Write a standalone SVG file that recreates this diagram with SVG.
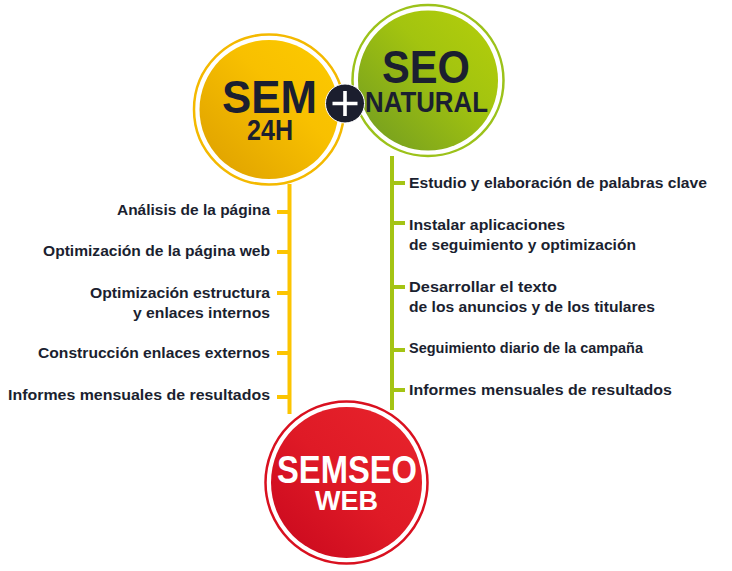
<svg xmlns="http://www.w3.org/2000/svg" width="732" height="571" viewBox="0 0 732 571">
<defs>
<linearGradient id="gY" x1="0" y1="1" x2="1" y2="0"><stop offset="0" stop-color="#dc9e00"/><stop offset="0.6" stop-color="#f8c000"/><stop offset="1" stop-color="#fdcb00"/></linearGradient>
<linearGradient id="gG" x1="0" y1="1" x2="1" y2="0"><stop offset="0" stop-color="#6f9a22"/><stop offset="0.6" stop-color="#a3c40f"/><stop offset="1" stop-color="#b5cf0a"/></linearGradient>
<linearGradient id="gR" x1="0" y1="1" x2="1" y2="0"><stop offset="0" stop-color="#c8071d"/><stop offset="0.5" stop-color="#df1a26"/><stop offset="1" stop-color="#e8242c"/></linearGradient>
<style>
.t{font-family:"Liberation Sans",Arial,sans-serif;font-size:15px;font-weight:bold;fill:#1b1f30}
.r{text-anchor:end}
.h{font-family:"Liberation Sans",Arial,sans-serif;font-weight:bold;fill:#1b1f30}
.w{fill:#ffffff}
.ly{stroke:#fcc400;stroke-width:4;fill:none}
.lg{stroke:#a4c414;stroke-width:4;fill:none}
</style>
</defs>
<g id="connectors">
<path class="ly" d="M289.5 184V414M277 212H290M277 252H290M277 293H290M277 353H290M277 397H290"/>
<path class="lg" d="M392 156V410M392 183H405M392 223H405M392 287H405M392 350H405M392 390H405"/>
</g>
<g id="sem">
<circle cx="269" cy="109.5" r="75" fill="#fff" stroke="#f4b900" stroke-width="2.5"/>
<circle cx="269" cy="109.5" r="69.5" fill="url(#gY)"/>
<text class="h" x="222" y="113" font-size="47" textLength="95" lengthAdjust="spacingAndGlyphs">SEM</text>
<text class="h" x="247" y="140" font-size="30" textLength="46" lengthAdjust="spacingAndGlyphs">24H</text>
</g>
<g id="seo">
<circle cx="428" cy="80.5" r="75.5" fill="#fff" stroke="#9cc21a" stroke-width="2.5"/>
<circle cx="428" cy="80.5" r="70" fill="url(#gG)"/>
<text class="h" x="382" y="83" font-size="46" textLength="88" lengthAdjust="spacingAndGlyphs">SEO</text>
<text class="h" x="365" y="112" font-size="30" textLength="123" lengthAdjust="spacingAndGlyphs">NATURAL</text>
</g>
<g id="plus">
<circle cx="345" cy="103.5" r="19.5" fill="#1b1e2e" stroke="#fff" stroke-width="1"/>
<path d="M332.5 103.5H357.5M345 91V116" stroke="#fff" stroke-width="3.6"/>
</g>
<g id="semseo">
<circle cx="346.5" cy="482.5" r="81" fill="#fff" stroke="#d9101f" stroke-width="2.5"/>
<circle cx="346.5" cy="482.5" r="75.5" fill="url(#gR)"/>
<text class="h w" x="277" y="483" font-size="39" textLength="140" lengthAdjust="spacingAndGlyphs">SEMSEO</text>
<text class="h w" x="315" y="510" font-size="28" textLength="63" lengthAdjust="spacingAndGlyphs">WEB</text>
</g>
<g id="sem-items">
<text class="t r" x="270" y="215" textLength="153" lengthAdjust="spacingAndGlyphs">Análisis de la página</text>
<text class="t r" x="270" y="256" textLength="227" lengthAdjust="spacingAndGlyphs">Optimización de la página web</text>
<text class="t r" x="270" y="298" textLength="180" lengthAdjust="spacingAndGlyphs">Optimización estructura</text>
<text class="t r" x="270" y="318" textLength="137" lengthAdjust="spacingAndGlyphs">y enlaces internos</text>
<text class="t r" x="270" y="358" textLength="232" lengthAdjust="spacingAndGlyphs">Construcción enlaces externos</text>
<text class="t r" x="270" y="400" textLength="262" lengthAdjust="spacingAndGlyphs">Informes mensuales de resultados</text>
</g>
<g id="seo-items">
<text class="t" x="409" y="188" textLength="298" lengthAdjust="spacingAndGlyphs">Estudio y elaboración de palabras clave</text>
<text class="t" x="409" y="230" textLength="156" lengthAdjust="spacingAndGlyphs">Instalar aplicaciones</text>
<text class="t" x="409" y="250" textLength="227" lengthAdjust="spacingAndGlyphs">de seguimiento y optimización</text>
<text class="t" x="409" y="292" textLength="148" lengthAdjust="spacingAndGlyphs">Desarrollar el texto</text>
<text class="t" x="409" y="312" textLength="246" lengthAdjust="spacingAndGlyphs">de los anuncios y de los titulares</text>
<text class="t" x="409" y="353" textLength="234" lengthAdjust="spacingAndGlyphs">Seguimiento diario de la campaña</text>
<text class="t" x="409" y="395" textLength="263" lengthAdjust="spacingAndGlyphs">Informes mensuales de resultados</text>
</g>
</svg>
